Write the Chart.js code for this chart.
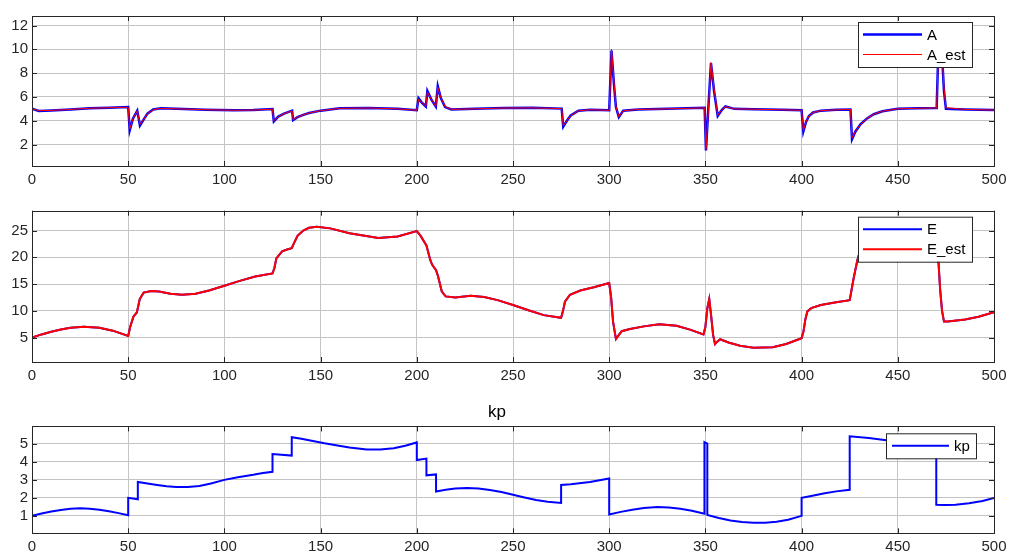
<!DOCTYPE html>
<html>
<head>
<meta charset="utf-8">
<script src="https://cdn.jsdelivr.net/npm/chart.js@4.4.0/dist/chart.umd.min.js"></script>
<style>
body { margin: 0; background: #fff; }
.panel { position: absolute; left: 0; width: 1009px; }
</style>
</head>
<body>
<div class="panel" style="top:0;height:192px"><canvas id="chartA"></canvas></div>
<div class="panel" style="top:192px;height:196px"><canvas id="chartE"></canvas></div>
<div class="panel" style="top:388px;height:166px"><canvas id="chartKp"></canvas></div>
<script>
"use strict";

// x ticks (shared)
const xTicks = [0, 50, 100, 150, 200, 250, 300, 350, 400, 450, 500];

// Plot 1: A and A_est
const tA = [
  0, 3.5, 10, 20, 30, 40, 50,
  50.8, 52.5, 54.7,
  56.1, 58, 60, 63, 67, 75, 90, 105, 115, 125,
  125.7, 128, 131, 135.2,
  135.7, 138, 141, 144, 150, 160, 175, 190, 200,
  200.9, 202.5, 204.7,
  205.5, 207.5, 209.9,
  210.9, 212.5, 214.7, 218, 230, 245, 260, 275.3,
  276.1, 278, 280, 284, 290, 300,
  301.2, 302.5, 303.5, 305, 307.3, 315, 330, 349.6,
  350.3, 351.5, 352.9, 354.5, 356.4, 358.5, 360.4, 365, 375, 390, 400,
  400.9, 402.3, 403.8, 406, 410, 418, 425.4,
  426.2, 428, 430.6, 434, 437.5, 442, 450, 460, 470.2,
  471, 472, 473, 474, 475, 485, 500
];
const valA = [
  5.02, 4.83, 4.87, 4.95, 5.05, 5.1, 5.15,
  3.2, 4.2, 4.85,
  3.6, 4.1, 4.6, 4.95, 5.05, 5.0, 4.93, 4.88, 4.9, 4.98,
  3.95, 4.35, 4.6, 4.85,
  4.05, 4.3, 4.5, 4.65, 4.85, 5.05, 5.08, 5.0, 4.88,
  5.9, 5.55, 5.2,
  6.5, 5.8, 5.2,
  6.9, 5.9, 5.15, 4.95, 5.0, 5.08, 5.1, 5.02,
  3.5, 4.0, 4.45, 4.85, 4.92, 4.88,
  9.9, 7.0, 5.15, 4.3, 4.85, 4.95, 5.0, 5.1,
  1.5, 5.0, 8.85, 6.5, 4.4, 4.9, 5.2, 5.0, 4.97, 4.92, 4.88,
  3.1, 3.9, 4.4, 4.7, 4.85, 4.92, 4.95,
  2.45, 3.1, 3.7, 4.2, 4.55, 4.8, 5.0, 5.05, 5.08,
  9.5, 10.5, 9.5, 6.5, 5.0, 4.95, 4.9
];
const valAest = [
  5.0, 4.85, 4.87, 4.95, 5.05, 5.1, 5.13,
  3.3, 4.2, 4.83,
  3.7, 4.1, 4.58, 4.93, 5.04, 5.0, 4.93, 4.88, 4.9, 4.97,
  4.0, 4.35, 4.6, 4.83,
  4.1, 4.3, 4.5, 4.65, 4.85, 5.04, 5.07, 5.0, 4.88,
  5.8, 5.55, 5.22,
  6.4, 5.8, 5.22,
  6.8, 5.95, 5.18, 4.96, 5.0, 5.07, 5.08, 5.02,
  3.6, 4.0, 4.43, 4.84, 4.92, 4.88,
  10.0, 7.2, 5.2, 4.35, 4.84, 4.95, 5.0, 5.08,
  1.6, 4.8, 8.9, 6.7, 4.45, 4.9, 5.18, 5.0, 4.97, 4.92, 4.88,
  3.2, 3.9, 4.4, 4.7, 4.85, 4.92, 4.95,
  2.55, 3.1, 3.7, 4.2, 4.55, 4.8, 5.0, 5.05, 5.07,
  9.3, 10.4, 9.7, 6.8, 5.1, 4.95, 4.9
];
const yTicksA = [2, 4, 6, 8, 10, 12];

// Plot 2: E and E_est
const tE = [
  0, 5, 10, 15, 20, 27, 35, 42, 50,
  51, 52.7, 54.5, 56, 58, 62, 66, 72, 78, 85, 92, 100, 108, 116, 125,
  126, 127, 130, 133, 135, 136, 138, 141, 144, 148, 155, 165, 180, 190, 200,
  202, 205, 207, 208, 210, 211, 213, 215, 220, 228, 235, 242, 250, 258, 266, 275,
  276, 277, 279.6, 285, 292, 300,
  301, 302, 303.5, 306.5, 310.8, 318, 326, 335, 342, 349,
  350, 351, 352, 353, 354, 355, 356, 357.7, 359, 362, 368, 375, 385, 392, 400,
  401, 402, 403, 405, 410, 418, 425,
  427, 429, 431, 435, 445, 455, 465, 470,
  471, 472, 473, 474, 476, 485, 492, 500
];
const valE = [
  5.0, 5.6, 6.1, 6.5, 6.85, 7.05, 6.85, 6.3, 5.3,
  7.0, 8.9, 9.7, 12.2, 13.4, 13.7, 13.6, 13.2, 13.0, 13.2, 13.8, 14.7, 15.6, 16.4, 17.0,
  18.0, 19.8, 21.1, 21.5, 21.7, 22.5, 24.0, 25.0, 25.5, 25.7, 25.4, 24.5, 23.6, 23.9, 24.9,
  24.0, 22.2, 19.5, 18.6, 17.6, 16.5, 13.6, 12.7, 12.5, 12.8, 12.6, 12.0, 11.1, 10.1, 9.2, 8.7,
  10.0, 11.7, 13.0, 13.8, 14.4, 15.2,
  12.5, 8.0, 4.75, 6.2, 6.6, 7.1, 7.5, 7.2, 6.5, 5.6,
  7.0, 10.5, 12.2, 9.0, 5.5, 3.8, 4.2, 4.7, 4.5, 4.1, 3.5, 3.1, 3.2, 3.8, 4.9,
  6.2, 8.5, 9.9, 10.5, 11.1, 11.6, 12.0,
  16.0, 19.5, 22.0, 24.0, 25.8, 26.2, 26.0, 25.5,
  20.0, 14.0, 10.0, 8.0, 8.0, 8.4, 8.9, 9.75
];
const valEest = [
  5.0, 5.6, 6.1, 6.5, 6.85, 7.05, 6.85, 6.3, 5.3,
  7.0, 8.9, 9.7, 12.2, 13.4, 13.7, 13.6, 13.2, 13.0, 13.2, 13.8, 14.7, 15.6, 16.4, 17.0,
  18.0, 19.8, 21.1, 21.5, 21.7, 22.5, 24.0, 25.0, 25.5, 25.7, 25.4, 24.5, 23.6, 23.9, 24.9,
  24.0, 22.2, 19.5, 18.6, 17.6, 16.5, 13.6, 12.7, 12.5, 12.8, 12.6, 12.0, 11.1, 10.1, 9.2, 8.7,
  10.0, 11.7, 13.0, 13.8, 14.4, 15.2,
  12.5, 8.0, 4.75, 6.2, 6.6, 7.1, 7.5, 7.2, 6.5, 5.6,
  7.0, 10.5, 12.2, 9.0, 5.5, 3.8, 4.2, 4.7, 4.5, 4.1, 3.5, 3.1, 3.2, 3.8, 4.9,
  6.2, 8.5, 9.9, 10.5, 11.1, 11.6, 12.0,
  16.0, 19.5, 22.0, 24.0, 25.8, 26.2, 26.0, 25.5,
  20.0, 14.0, 10.0, 8.0, 8.0, 8.4, 8.9, 9.75
];
const yTicksE = [5, 10, 15, 20, 25];

// Plot 3: kp
const tKp = [
  0, 5, 10, 15, 20, 25, 30, 35, 40, 45, 50,
  50, 55,
  55, 60, 65, 70, 75, 81, 87, 93, 100, 107, 115, 120, 125,
  125, 135,
  135, 140, 146, 152, 158, 165, 174, 181, 188, 194, 200,
  200, 205,
  205, 210,
  210, 215, 220, 226, 232, 238, 244, 250, 256, 262, 268, 275,
  275, 280, 290, 300,
  300, 306, 312, 318, 325, 331, 337, 343, 349.5,
  349.5, 351,
  351, 357, 363, 369, 375, 381, 387, 393, 400,
  400, 405, 412, 418, 425,
  425, 435, 444, 455, 462, 470,
  470, 475, 480, 487, 494, 500
];
const valKp = [
  1.0, 1.13, 1.24, 1.33, 1.39, 1.42, 1.4, 1.34, 1.26, 1.15, 1.03,
  2.0, 1.92,
  2.88, 2.8, 2.72, 2.65, 2.6, 2.6, 2.66, 2.8, 3.0, 3.15, 3.28, 3.38, 3.45,
  4.43, 4.35,
  5.37, 5.28, 5.16, 5.03, 4.92, 4.8, 4.68, 4.68, 4.76, 4.9, 5.08,
  4.1, 4.18,
  3.25, 3.3,
  2.35, 2.45, 2.52, 2.55, 2.52, 2.44, 2.32, 2.17, 2.02, 1.88, 1.78, 1.72,
  2.72, 2.76, 2.88, 3.08,
  1.08, 1.22, 1.34, 1.43, 1.49, 1.47, 1.4, 1.28, 1.12,
  5.1, 5.02,
  1.05, 0.88, 0.74, 0.66, 0.62, 0.62, 0.67, 0.78, 1.0,
  2.0, 2.1, 2.25, 2.36, 2.45,
  5.42, 5.33, 5.2, 5.05, 4.95, 4.85,
  1.62, 1.6, 1.62, 1.7, 1.83, 1.99
];
const yTicksKp = [1, 2, 3, 4, 5];

const FONT = "'Liberation Sans', Arial, sans-serif";
const INK = "#262626";

function points(t, v) {
  return t.map((x, i) => ({ x: x, y: v[i] }));
}

// Ram runt plotytan + inåtriktade tickmarkeringar
const boxPlugin = {
  id: "boxFrame",
  afterDatasetsDraw(chart) {
    const a = chart.chartArea;
    const ctx = chart.ctx;
    ctx.save();
    ctx.strokeStyle = INK;
    ctx.lineWidth = 1;
    ctx.beginPath();
    chart.scales.x.ticks.forEach((tk) => {
      const px = Math.round(chart.scales.x.getPixelForValue(tk.value)) + 0.5;
      ctx.moveTo(px, a.top); ctx.lineTo(px, a.top + 5);
      ctx.moveTo(px, a.bottom); ctx.lineTo(px, a.bottom - 5);
    });
    chart.scales.y.ticks.forEach((tk) => {
      const py = Math.round(chart.scales.y.getPixelForValue(tk.value)) + 0.5;
      ctx.moveTo(a.left, py); ctx.lineTo(a.left + 5, py);
      ctx.moveTo(a.right, py); ctx.lineTo(a.right - 5, py);
    });
    ctx.stroke();
    ctx.strokeRect(Math.round(a.left) + 0.5, Math.round(a.top) + 0.5,
      Math.round(a.right - a.left), Math.round(a.bottom - a.top));
    ctx.restore();
  }
};

// Legend inne i plotytan (MATLAB-stil)
const legendPlugin = {
  id: "boxLegend",
  afterDraw(chart, args, opts) {
    const ctx = chart.ctx;
    ctx.save();
    ctx.fillStyle = "#fff";
    ctx.fillRect(opts.left, opts.top, opts.width, opts.height);
    ctx.strokeStyle = INK;
    ctx.lineWidth = 1;
    ctx.strokeRect(opts.left + 0.5, opts.top + 0.5, opts.width, opts.height);
    ctx.font = "15px " + FONT;
    ctx.textBaseline = "middle";
    chart.data.datasets.forEach((ds, i) => {
      const y = opts.top + opts.firstRow + i * opts.rowGap;
      const x0 = opts.left + opts.pad;
      ctx.strokeStyle = ds.borderColor;
      ctx.lineWidth = ds.borderWidth;
      ctx.beginPath();
      ctx.moveTo(x0, y);
      ctx.lineTo(x0 + opts.lineLen, y);
      ctx.stroke();
      ctx.fillStyle = "#000";
      ctx.fillText(ds.label, x0 + opts.lineLen + 5, y + 1);
    });
    ctx.restore();
  }
};

function makeOptions(cfg) {
  return {
    responsive: true,
    maintainAspectRatio: false,
    animation: false,
    layout: { padding: { top: cfg.padTop, right: 15, left: 0, bottom: 0 } },
    plugins: {
      legend: { display: false },
      tooltip: { enabled: false },
      title: cfg.title ? {
        display: true,
        text: cfg.title,
        color: "#000",
        font: { family: FONT, size: 17, weight: "normal" },
        padding: { top: 14, bottom: 4 }
      } : { display: false },
      boxLegend: cfg.legend
    },
    elements: { point: { radius: 0 }, line: { tension: 0 } },
    scales: {
      x: {
        type: "linear",
        min: 0,
        max: 500,
        afterFit: (s) => { s.height = cfg.xHeight; s.paddingLeft = 0; s.paddingRight = 0; },
        afterBuildTicks: (s) => { s.ticks = xTicks.map((v) => ({ value: v })); },
        ticks: { color: INK, padding: 5, maxRotation: 0, font: { family: FONT, size: 15 } },
        grid: { color: "#c4c4c4", drawTicks: false },
        border: { display: false }
      },
      y: {
        type: "linear",
        min: cfg.yMin,
        max: cfg.yMax,
        afterFit: (s) => { s.width = 32; s.paddingTop = 0; s.paddingBottom = 0; },
        afterBuildTicks: (s) => { s.ticks = cfg.yTicks.map((v) => ({ value: v })); },
        ticks: { color: INK, padding: 4, font: { family: FONT, size: 15 } },
        grid: { color: "#c4c4c4", drawTicks: false },
        border: { display: false }
      }
    }
  };
}

new Chart(document.getElementById("chartA"), {
  type: "line",
  data: {
    datasets: [
      { label: "A", data: points(tA, valA), borderColor: "#0000ff", borderWidth: 2.5, order: 1 },
      { label: "A_est", data: points(tA, valAest), borderColor: "#ff0000", borderWidth: 1, order: 0 }
    ]
  },
  options: makeOptions({
    padTop: 16, xHeight: 26, yMin: 0.2, yMax: 12.8, yTicks: yTicksA,
    legend: { left: 858, top: 22, width: 114, height: 45, firstRow: 12.5, rowGap: 20, pad: 5, lineLen: 59 }
  }),
  plugins: [boxPlugin, legendPlugin]
});

new Chart(document.getElementById("chartE"), {
  type: "line",
  data: {
    datasets: [
      { label: "E", data: points(tE, valE), borderColor: "#0000ff", borderWidth: 2, order: 1 },
      { label: "E_est", data: points(tE, valEest), borderColor: "#ff0000", borderWidth: 2, order: 0 }
    ]
  },
  options: makeOptions({
    padTop: 18.7, xHeight: 26, yMin: 0.45, yMax: 28.7, yTicks: yTicksE,
    legend: { left: 858, top: 24.7, width: 114, height: 45, firstRow: 12.5, rowGap: 20, pad: 5, lineLen: 59 }
  }),
  plugins: [boxPlugin, legendPlugin]
});

new Chart(document.getElementById("chartKp"), {
  type: "line",
  data: {
    datasets: [
      { label: "kp", data: points(tKp, valKp), borderColor: "#0000ff", borderWidth: 2 }
    ]
  },
  options: makeOptions({
    padTop: 0, xHeight: 20.7, yMin: 0.03, yMax: 5.97, yTicks: yTicksKp, title: "kp",
    legend: { left: 886, top: 45.3, width: 90, height: 25, firstRow: 12.5, rowGap: 20, pad: 6, lineLen: 57 }
  }),
  plugins: [boxPlugin, legendPlugin]
});
</script>
</body>
</html>
